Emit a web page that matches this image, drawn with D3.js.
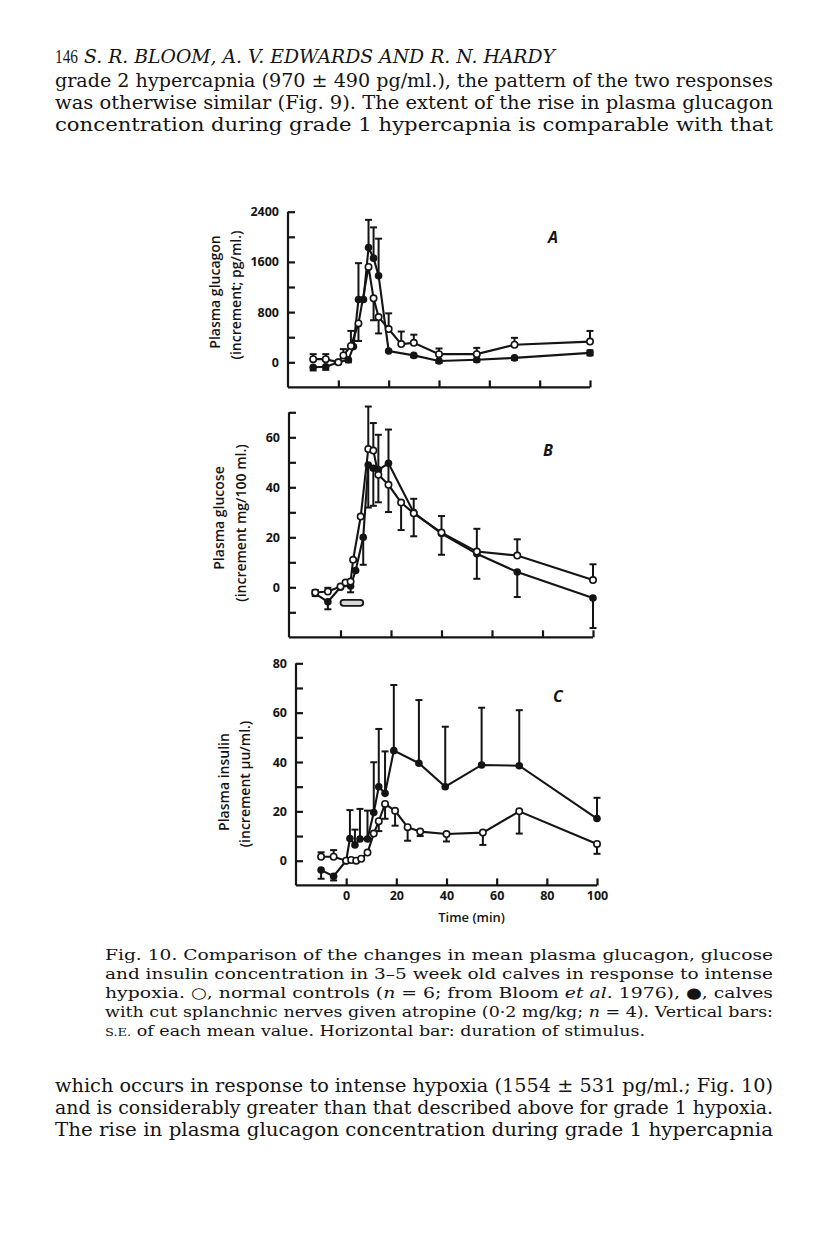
<!DOCTYPE html>
<html>
<head>
<meta charset="utf-8">
<script src="https://cdn.jsdelivr.net/npm/d3@7"></script>
<style>
  body { margin: 0; background: #fff; }
  svg { display: block; }
</style>
</head>
<body>
<svg id="page"></svg>
<script>
const W = 816, H = 1238;

// ---- data ----
const timeTicks = [0, 20, 40, 60, 80, 100];
const stimulus = [0, 9]; // horizontal bar, minutes

// A: plasma glucagon (pg/ml), open = controls, filled = cut splanchnic + atropine
const glucagonLabels = [0, 800, 1600, 2400];
const glucagonCtrlT = [-10, -5, 0, 2, 5, 8, 12, 14, 16, 20, 25, 30, 40, 55, 70, 100];
const glucagonCtrlV = [50, 50, 0, 110, 260, 620, 1520, 1020, 720, 530, 290, 310, 130, 130, 280, 330];
const glucagonCtrlErr = [[0,80],[0,80],[0,0],[0,100],[0,240],[280,0],[0,0],[350,0],[260,0],[0,250],[0,200],[0,130],[0,90],[0,100],[0,110],[0,170]];
const glucagonCutT = [-10, -5, 0, 4, 6, 8, 10, 12, 14, 16, 20, 30, 40, 55, 70, 100];
const glucagonCutV = [-80, -70, 0, 40, 250, 1000, 1000, 1830, 1660, 1380, 180, 110, 20, 40, 70, 150];
const glucagonCutErr = [[50,0],[50,0],[0,0],[40,0],[0,0],[0,580],[0,0],[0,440],[0,490],[0,590],[0,0],[30,0],[30,0],[30,0],[30,0],[40,40]];

// B: plasma glucose (mg/100 ml)
const glucoseLabels = [0, 20, 40, 60];
const glucoseCtrlT = [-10, -5, 0, 2, 4, 5, 8, 11, 13, 15, 19, 24, 29, 40, 54, 70, 100];
const glucoseCtrlV = [-2.1, -1.7, 0.3, 1.9, 2.3, 11, 28.3, 55.3, 54.7, 45, 41, 33.9, 29.6, 21.9, 14.3, 12.7, 2.9];
const glucoseCtrlErr = [[0,1],[0,1.5],[0,0],[0,0],[0,0],[0,0],[0,0],[0,17],[0,11],[0,0],[0,0],[11,0],[0,0],[0,0],[0,0],[0,6.5],[0,6.3]];
const glucoseCutT = [-10, -5, 0, 2, 4, 6, 9, 11, 13, 15, 19, 29, 40, 54, 70, 100];
const glucoseCutV = [-2.5, -5.8, 0, 1.5, 0.5, 6.7, 20, 48.9, 47.6, 47, 49.6, 29.9, 21.5, 13.4, 6.1, -4.3];
const glucoseCutErr = [[1,1],[3,0],[0,0],[1,1],[2.5,0],[0,0],[11,0],[17,0],[15,0],[13,14],[19.5,13.5],[9.5,5.5],[8.5,7],[10,10],[10,0],[12,0]];

// C: plasma insulin (micro-u/ml)
const insulinLabels = [0, 20, 40, 60, 80];
const insulinCtrlT = [-10, -5, 0, 2, 4, 6, 8.5, 11, 13, 15.5, 19.5, 24.5, 29.5, 40, 54.5, 69, 100];
const insulinCtrlV = [1.6, 1.6, 0, 0.3, 0, 0.8, 3.3, 11, 16, 23, 20.2, 13.6, 11.8, 10.8, 11.4, 20, 6.8];
const insulinCtrlErr = [[0,1.8],[0,2.7],[0,0],[0,0],[0,0],[0,0],[0,0],[0,0],[4,0],[6,0],[6,0],[5.5,0],[1.8,0],[3,0],[5,0],[9,0],[4,0]];
const insulinCutT = [-10, -5, 0, 1.5, 3.5, 5.5, 8.5, 11, 13, 15.5, 19, 29, 39.5, 54, 69, 100];
const insulinCutV = [-3.8, -6.3, 0, 9, 6.4, 8.8, 8.8, 19.5, 30, 27.3, 44.6, 39.5, 30, 38.8, 38.5, 17.1];
const insulinCutErr = [[3.5,0],[1.7,0],[0,0],[0,11.5],[0,6.2],[0,12.2],[0,11.5],[0,20.4],[0,23.4],[0,17],[0,26.6],[0,25.6],[0,24.3],[0,23.2],[0,22.5],[0,8.4]];

// ---- page ----
const svg = d3.select("#page").attr("width", W).attr("height", H);
svg.append("rect").attr("width", W).attr("height", H).attr("fill", "#fff");

const serif = "'DejaVu Serif', 'Liberation Serif', serif";
const sans = "'Open Sans', Lato, sans-serif";
const ink = "#141414";

function series(ts, vs, errs) {
  return ts.map((t, i) => ({ t: t, v: vs[i], lo: errs[i][0], hi: errs[i][1] }));
}

function drawPanel(p) {
  const x = d3.scaleLinear().domain([-20, 100]).range(p.xRange);
  const y = d3.scaleLinear().domain(p.yDomain).range(p.yRange);
  const g = svg.append("g");

  // y axis: ticks point inward, every half step
  const step = p.labels[1] - p.labels[0];
  const yTicks = d3.range(p.yDomain[0] + step / 2, p.yDomain[1] + 0.001, step / 2);
  const ya = g.append("g")
    .attr("transform", "translate(" + p.axisX + ",0)")
    .call(d3.axisLeft(y).tickValues(yTicks).tickSizeInner(-7).tickSizeOuter(0).tickPadding(9)
      .tickFormat((d) => (p.labels.includes(d) ? d : "")));

  const xa = g.append("g")
    .attr("transform", "translate(0," + y(p.yDomain[0]) + ")")
    .call(d3.axisBottom(x).tickValues(timeTicks).tickSizeInner(-7).tickSizeOuter(0).tickPadding(6)
      .tickFormat((d) => (p.showTime ? d : "")));

  [ya, xa].forEach((a) => {
    a.attr("font-family", sans).attr("font-size", 12.5).attr("font-weight", 700);
    a.selectAll("path, line").attr("stroke", ink).attr("stroke-width", 2.2);
    a.selectAll("text").attr("fill", ink);
  });
  ya.select(".domain").attr("d", "M0," + y(p.yDomain[1]) + "V" + y(p.yDomain[0]));
  xa.select(".domain").attr("d", "M" + p.axisX + ",0H" + x(100));

  // axis titles
  p.title.forEach((s, i) => {
    g.append("text")
      .attr("transform", "translate(" + p.titleX[i] + "," + p.titleY[i] + ") rotate(-90)")
      .attr("text-anchor", "middle")
      .attr("font-family", sans).attr("font-size", 14).attr("font-weight", 600)
      .attr("fill", ink)
      .text(s);
  });

  g.append("text")
    .attr("x", p.letterPos[0]).attr("y", p.letterPos[1])
    .attr("font-family", sans).attr("font-size", 16).attr("font-weight", 700)
    .attr("font-style", "italic").attr("fill", ink)
    .text(p.letter);

  if (p.stim) {
    g.append("rect")
      .attr("x", x(p.stim[0])).attr("width", x(p.stim[1]) - x(p.stim[0]))
      .attr("y", y(p.stimY) - 3).attr("height", 6).attr("rx", 3)
      .attr("fill", "#d8d8d8").attr("stroke", ink).attr("stroke-width", 1.8);
  }

  const line = d3.line().x((d) => x(d.t)).y((d) => y(d.v));
  const groups = [p.cut, p.ctrl];

  groups.forEach((s) => {
    g.append("path").datum(s).attr("d", line)
      .attr("fill", "none").attr("stroke", ink).attr("stroke-width", 2.1);
  });

  groups.forEach((s) => {
    const eb = g.append("g").selectAll("g").data(s.filter((d) => d.lo > 0 || d.hi > 0)).enter().append("g")
      .attr("stroke", ink).attr("stroke-width", 2);
    eb.append("line")
      .attr("x1", (d) => x(d.t)).attr("x2", (d) => x(d.t))
      .attr("y1", (d) => y(d.v - d.lo)).attr("y2", (d) => y(d.v + d.hi));
    eb.filter((d) => d.hi > 0).append("line")
      .attr("x1", (d) => x(d.t) - 3.5).attr("x2", (d) => x(d.t) + 3.5)
      .attr("y1", (d) => y(d.v + d.hi)).attr("y2", (d) => y(d.v + d.hi));
    eb.filter((d) => d.lo > 0).append("line")
      .attr("x1", (d) => x(d.t) - 3.5).attr("x2", (d) => x(d.t) + 3.5)
      .attr("y1", (d) => y(d.v - d.lo)).attr("y2", (d) => y(d.v - d.lo));
  });

  g.append("g").selectAll("circle").data(p.cut).enter().append("circle")
    .attr("cx", (d) => x(d.t)).attr("cy", (d) => y(d.v)).attr("r", 3.8)
    .attr("fill", ink);
  g.append("g").selectAll("circle").data(p.ctrl).enter().append("circle")
    .attr("cx", (d) => x(d.t)).attr("cy", (d) => y(d.v)).attr("r", 3.2)
    .attr("fill", "#fff").attr("stroke", ink).attr("stroke-width", 1.6);

  if (p.showTime) {
    g.append("text")
      .attr("x", x(50)).attr("y", p.xTitleY)
      .attr("text-anchor", "middle")
      .attr("font-family", sans).attr("font-size", 13).attr("font-weight", 600)
      .attr("fill", ink)
      .text("Time (min)");
  }
}

drawPanel({
  xRange: [288, 590], axisX: 288,
  yDomain: [-400, 2400], yRange: [387.4, 211.7],
  labels: glucagonLabels,
  title: ["Plasma glucagon", "(increment; pg/ml.)"], titleX: [220, 241], titleY: [292, 295],
  letter: "A", letterPos: [548, 243],
  ctrl: series(glucagonCtrlT, glucagonCtrlV, glucagonCtrlErr),
  cut: series(glucagonCutT, glucagonCutV, glucagonCutErr)
});

drawPanel({
  xRange: [290, 593], axisX: 289,
  yDomain: [-20, 70], yRange: [637.3, 412.3],
  labels: glucoseLabels,
  title: ["Plasma glucose", "(increment mg/100 ml.)"], titleX: [224, 246], titleY: [518, 523],
  letter: "B", letterPos: [543, 456],
  stim: stimulus, stimY: -6.2,
  ctrl: series(glucoseCtrlT, glucoseCtrlV, glucoseCtrlErr),
  cut: series(glucoseCutT, glucoseCutV, glucoseCutErr)
});

drawPanel({
  xRange: [296, 597], axisX: 296,
  yDomain: [-10, 80], yRange: [885.4, 663.3],
  labels: insulinLabels,
  title: ["Plasma insulin", "(increment \u03BCu/ml.)"], titleX: [229, 250], titleY: [782, 784],
  letter: "C", letterPos: [553, 702],
  showTime: true, xTitleY: 922,
  ctrl: series(insulinCtrlT, insulinCtrlV, insulinCtrlErr),
  cut: series(insulinCutT, insulinCutV, insulinCutErr)
});

// ---- page text ----
function textLine(parts, xPos, yPos, size, width, family) {
  const t = svg.append("text")
    .attr("x", xPos).attr("y", yPos)
    .attr("font-family", family || serif).attr("font-size", size).attr("fill", ink);
  if (width) t.attr("textLength", width).attr("lengthAdjust", "spacingAndGlyphs");
  parts.forEach((p) => {
    const s = typeof p === "string" ? { s: p } : p;
    const ts = t.append("tspan").text(s.s);
    if (s.i) ts.attr("font-style", "italic");
    if (s.size) ts.attr("font-size", s.size);
  });
  return t;
}

textLine(["146"], 55, 63, 19, 23, "'Liberation Serif', serif");
textLine([{ s: "S. R. BLOOM, A. V. EDWARDS AND R. N. HARDY", i: true }], 84, 63, 18, 471);

const bodyTop = [
  "grade 2 hypercapnia (970 \u00B1 490 pg/ml.), the pattern of the two responses",
  "was otherwise similar (Fig. 9). The extent of the rise in plasma glucagon",
  "concentration during grade 1 hypercapnia is comparable with that"
];
bodyTop.forEach((s, i) => textLine([s], 55, 87 + i * 22, 18.5, 718));

const caption = [
  ["Fig. 10. Comparison of the changes in mean plasma glucagon, glucose"],
  ["and insulin concentration in 3\u20135 week old calves in response to intense"],
  ["hypoxia. ", { s: "\u25CB", size: 15 }, ", normal controls (", { s: "n", i: true }, " = 6; from Bloom ", { s: "et al.", i: true }, " 1976), ", { s: "\u25CF", size: 15 }, ", calves"],
  ["with cut splanchnic nerves given atropine (0\u00B72 mg/kg; ", { s: "n", i: true }, " = 4). Vertical bars:"],
  [{ s: "S.E.", size: 11.5 }, " of each mean value. Horizontal bar: duration of stimulus."]
];
caption.forEach((parts, i) => textLine(parts, 105, 960 + i * 19, 15.5, i < 4 ? 668 : 540));

const bodyBottom = [
  "which occurs in response to intense hypoxia (1554 \u00B1 531 pg/ml.; Fig. 10)",
  "and is considerably greater than that described above for grade 1 hypoxia.",
  "The rise in plasma glucagon concentration during grade 1 hypercapnia"
];
bodyBottom.forEach((s, i) => textLine([s], 55, 1092 + i * 22, 18.5, 718));
</script>
</body>
</html>
